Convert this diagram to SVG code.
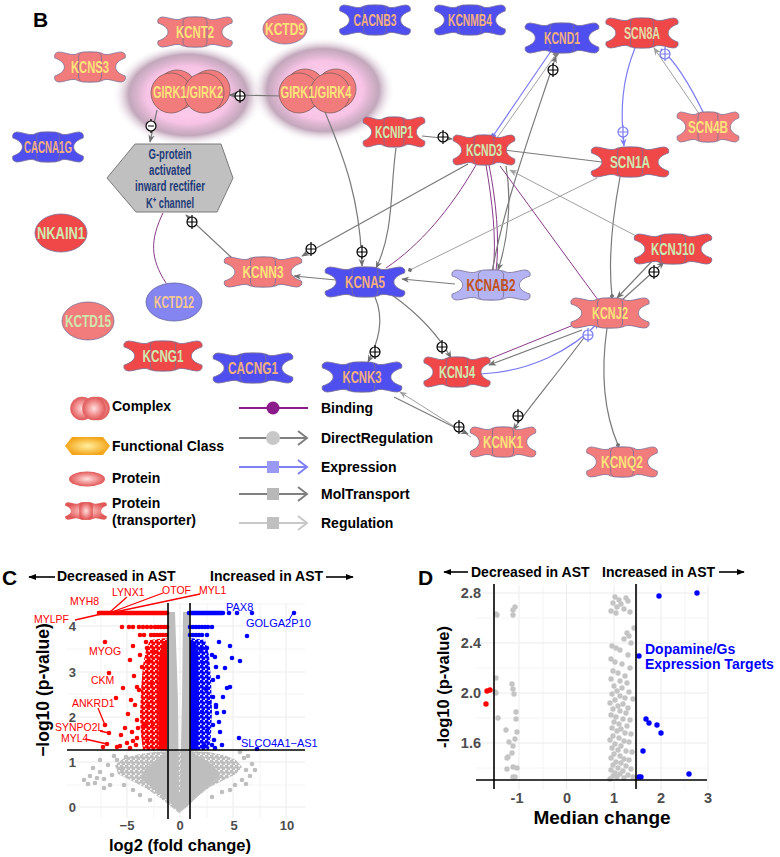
<svg xmlns="http://www.w3.org/2000/svg" width="780" height="857" viewBox="0 0 780 857">
<style>
.lb{font-family:"Liberation Sans",Arial,sans-serif;font-size:17px;font-weight:bold;text-anchor:middle}
.ys{fill:#fbe27a}.gr{fill:#cde8b0}.pc{fill:#f4b07e}
.sal{fill:#f27c7c}.red{fill:#f04848}.blu{fill:#4f4ff0}.lav{fill:#b4b4f4}.lbl{fill:#8585f2}
.hx{font-family:"Liberation Sans",Arial,sans-serif;font-size:14px;font-weight:bold;fill:#1f3b78;text-anchor:middle}
.lg{font-family:"Liberation Sans",Arial,sans-serif;font-size:14px;font-weight:bold;fill:#000}
.big{font-family:"Liberation Sans",Arial,sans-serif;font-size:21px;font-weight:bold;fill:#000}
.hd{font-family:"Liberation Sans",Arial,sans-serif;font-size:14px;font-weight:bold;fill:#000}
.tk{font-family:"Liberation Sans",Arial,sans-serif;font-weight:bold;fill:#4d4d4d;text-anchor:middle}
.at{font-family:"Liberation Sans",Arial,sans-serif;font-weight:bold;fill:#000;text-anchor:middle}
.rl{font-family:"Liberation Sans",Arial,sans-serif;font-size:10.5px;fill:#ff0000}
.bl{font-family:"Liberation Sans",Arial,sans-serif;font-size:11px;fill:#0000ff}
.dr{fill:none;stroke:#7a7a7a;stroke-width:1.2}
.rg{fill:none;stroke:#a0a0a0;stroke-width:1}
.bd{fill:none;stroke:#8a3a8a;stroke-width:1}
.ex{fill:none;stroke:#7b7bf2;stroke-width:1.2}
.gj{stroke:#ebebeb;stroke-width:1}.gn{stroke:#f4f4f4;stroke-width:1}
.k{stroke:#000;stroke-width:1.6}
.pr{fill:#ff0000;r:2.3px}.pb{fill:#0000ff;r:2.3px}.pg{fill:#bebebe;r:2.3px}
.dr2{fill:#ff0000;r:2.7px}.db2{fill:#0000ff;r:2.7px}.dg2{fill:#c4c4c4;r:2.7px}
</style>
<defs>
<path id="tpo" d="M-12,-14 Q0,-16 12,-14 C18,-10 26,-15 33,-15 Q38.5,-14 37,-9 C31,-7 27,-4 27,0 C27,4 31,7 37,9 Q38.5,14 33,15 C26,15 18,10 12,14 Q0,16 -12,14 C-18,10 -26,15 -33,15 Q-38.5,14 -37,9 C-31,7 -27,4 -27,0 C-27,-4 -31,-7 -37,-9 Q-38.5,-14 -33,-15 C-26,-15 -18,-10 -12,-14 Z"/>
<g id="tp" stroke="#7a6f95" stroke-width="0.8">
<use href="#tpo" vector-effect="non-scaling-stroke"/>
<rect x="-12" y="-15" width="24" height="30" rx="5" vector-effect="non-scaling-stroke"/>
</g>
<radialGradient id="glow"><stop offset="0" stop-color="#ffd2f0"/><stop offset="0.55" stop-color="#f8c4e6"/><stop offset="0.78" stop-color="#b898b0" stop-opacity="0.85"/><stop offset="1" stop-color="#ffffff" stop-opacity="0"/></radialGradient>
<radialGradient id="lgred"><stop offset="0" stop-color="#ffe0e0"/><stop offset="0.6" stop-color="#f08c8c"/><stop offset="1" stop-color="#e05858"/></radialGradient>
<radialGradient id="lgor"><stop offset="0" stop-color="#fff0a0"/><stop offset="1" stop-color="#f4a418"/></radialGradient>
<pattern id="rpat" width="5" height="5" patternUnits="userSpaceOnUse"><circle cx="1.2" cy="1.2" r="2.2" fill="#ff0000"/><circle cx="3.7" cy="3.7" r="2.2" fill="#ff0000"/></pattern>
<pattern id="bpat" width="5" height="5" patternUnits="userSpaceOnUse"><circle cx="1.2" cy="1.2" r="2.2" fill="#0000ff"/><circle cx="3.7" cy="3.7" r="2.2" fill="#0000ff"/></pattern>
<pattern id="gpat" width="5" height="5" patternUnits="userSpaceOnUse"><circle cx="1.2" cy="1.2" r="2.2" fill="#bebebe"/><circle cx="3.7" cy="3.7" r="2.2" fill="#bebebe"/></pattern>
<marker id="ag" viewBox="0 0 10 10" refX="9" refY="5" markerWidth="8" markerHeight="8" orient="auto" markerUnits="userSpaceOnUse"><path d="M0,1 L10,5 L0,9 L3,5 Z" fill="#707070"/></marker>
<marker id="al" viewBox="0 0 10 10" refX="9" refY="5" markerWidth="8" markerHeight="8" orient="auto" markerUnits="userSpaceOnUse"><path d="M0,1 L10,5 L0,9 L3,5 Z" fill="#a0a0a0"/></marker>
<marker id="ab" viewBox="0 0 10 10" refX="9" refY="5" markerWidth="8" markerHeight="8" orient="auto" markerUnits="userSpaceOnUse"><path d="M0,1 L10,5 L0,9 L3,5 Z" fill="#7b7bf2"/></marker>
<marker id="dg" viewBox="0 0 10 10" refX="5" refY="5" markerWidth="6" markerHeight="6" orient="auto" markerUnits="userSpaceOnUse"><path d="M1,5 L5,1 L9,5 L5,9 Z" fill="#707070"/></marker>
<marker id="sb" viewBox="0 0 10 10" refX="5" refY="5" markerWidth="6" markerHeight="6" orient="auto" markerUnits="userSpaceOnUse"><rect x="1" y="1" width="8" height="8" fill="#7b7bf2"/></marker>
<marker id="sg" viewBox="0 0 10 10" refX="5" refY="5" markerWidth="6" markerHeight="6" orient="auto" markerUnits="userSpaceOnUse"><rect x="1" y="1" width="8" height="8" fill="#808080"/></marker>
<marker id="ak" viewBox="0 0 10 10" refX="9" refY="5" markerWidth="8" markerHeight="8" orient="auto" markerUnits="userSpaceOnUse"><path d="M0,1 L10,5 L0,9 Z" fill="#000"/></marker>
<g id="pl"><circle r="5" fill="#fff" stroke="#000" stroke-width="1.2"/><path d="M-5,0H5M0,-7V7" stroke="#000" stroke-width="1.2"/></g>
<g id="plb"><circle r="5" fill="#fff" stroke="#7b7bf2" stroke-width="1.2"/><path d="M-5,0H5M0,-7V7" stroke="#7b7bf2" stroke-width="1.2"/></g>
<g id="mn"><circle r="5" fill="#fff" stroke="#000" stroke-width="1.2"/><path d="M-3,0H3M0,-7V-5M0,5V7" stroke="#000" stroke-width="1.2"/></g>
</defs>
<rect width="780" height="857" fill="#fff"/>

<!-- Panel B -->
<text class="big" x="33" y="27" font-size="22">B</text>
<ellipse cx="188" cy="95" rx="76" ry="52" fill="url(#glow)"/>
<ellipse cx="323" cy="90" rx="72" ry="53" fill="url(#glow)"/>

<g id="connectors">
<path class="dr" d="M282,96 L229,95" marker-end="url(#ag)"/>
<path class="dr" d="M157,110 L150,142" marker-end="url(#ag)"/>
<path class="bd" d="M166,283 C150,258 150,240 163,213"/>
<path class="dr" d="M232,258 L186,215" marker-end="url(#ag)"/>
<path class="dr" d="M336,280 L294,276" marker-end="url(#ag)"/>
<path class="dr" d="M468,164 L302,256" marker-end="url(#ag)"/>
<path class="dr" d="M325,112 C345,160 360,200 362,266" marker-end="url(#ag)"/>
<path class="dr" d="M422,136 L452,139" marker-end="url(#ag)"/>
<path class="dr" d="M396,148 C390,190 394,232 376,268" marker-end="url(#ag)"/>
<path class="bd" d="M476,165 C450,210 420,245 386,268"/>
<path class="bd" d="M486,165 C492,200 497,240 493,271"/>
<path class="bd" d="M489,165 C496,200 500,240 496,271"/>
<path class="dr" d="M506,166 C512,200 508,240 498,270" marker-end="url(#ag)"/>
<path class="dr" d="M492,272 C505,200 535,120 556,56" marker-end="url(#ag)"/>
<path class="ex" d="M551,51 L493,136" marker-end="url(#sb)"/>
<path class="rg" d="M497,138 L556,54" marker-end="url(#sg)"/>
<path class="ex" d="M635,48 C622,80 620,110 624,146" marker-end="url(#ab)"/>
<path class="rg" d="M700,115 L654,48" marker-end="url(#al)"/>
<path class="ex" d="M704,114 C690,85 676,62 661,49" marker-end="url(#ab)"/>
<path class="dr" d="M602,162 L504,150" marker-end="url(#dg)"/>
<path class="dr" d="M620,177 C612,220 608,260 612,296" marker-end="url(#dg)"/>
<path class="rg" d="M597,178 L410,270" marker-end="url(#dg)"/>
<path class="rg" d="M640,238 L510,170" marker-end="url(#al)"/>
<path class="bd" d="M500,166 L598,300" stroke-width="0.8"/>
<path class="dr" d="M622,300 L664,262" marker-end="url(#ag)"/>
<path class="dr" d="M656,257 L617,298" marker-end="url(#ag)"/>
<path class="bd" d="M576,324 L487,360" stroke-width="0.8"/>
<path class="dr" d="M582,330 L489,365" marker-end="url(#ag)"/>
<path class="ex" d="M480,374 C530,372 572,350 599,322" marker-end="url(#ab)"/>
<path class="dr" d="M586,335 C560,370 535,400 513,430" marker-end="url(#ag)"/>
<path class="dr" d="M607,328 C601,370 603,410 618,445" marker-end="url(#dg)"/>
<path class="dr" d="M392,295 C420,315 440,338 451,358" marker-end="url(#ag)"/>
<path class="dr" d="M375,297 C385,320 378,342 368,362" marker-end="url(#ag)"/>
<path class="rg" d="M471,437 L400,392" marker-end="url(#al)"/>
<path class="dr" d="M394,397 L468,434" marker-end="url(#ag)"/>
<path class="dr" d="M455,284 L402,279" marker-end="url(#ag)"/>
<use href="#pl" x="240" y="96"/>
<use href="#mn" x="151" y="126"/>
<use href="#pl" x="192" y="222"/>
<use href="#pl" x="311" y="249"/>
<use href="#pl" x="362" y="252"/>
<use href="#pl" x="443" y="137"/>
<use href="#pl" x="553" y="70"/>
<use href="#plb" x="623" y="132"/>
<use href="#plb" x="665" y="54"/>
<use href="#pl" x="654" y="272"/>
<use href="#plb" x="588" y="335"/>
<use href="#pl" x="518" y="416"/>
<use href="#pl" x="442" y="347"/>
<use href="#pl" x="375" y="352"/>
<use href="#pl" x="459" y="427"/>
</g>

<g id="n-GIRK1-GIRK2">
<circle cx="177" cy="90" r="20" fill="#f27c7c" stroke="#806060" stroke-width="0.8"/>
<circle cx="210" cy="90" r="20" fill="#f27c7c" stroke="#806060" stroke-width="0.8"/>
<circle cx="171" cy="93" r="20" fill="#f27c7c" stroke="#806060" stroke-width="0.8"/>
<circle cx="204" cy="93" r="20" fill="#f27c7c" stroke="#806060" stroke-width="0.8"/>
<text class="lb ys" x="188" y="98" font-size="15" textLength="70" lengthAdjust="spacingAndGlyphs">GIRK1/GIRK2</text>
</g>
<g id="n-GIRK1-GIRK4">
<circle cx="305" cy="89" r="20" fill="#f27c7c" stroke="#806060" stroke-width="0.8"/>
<circle cx="336" cy="89" r="20" fill="#f27c7c" stroke="#806060" stroke-width="0.8"/>
<circle cx="299" cy="93" r="20" fill="#f27c7c" stroke="#806060" stroke-width="0.8"/>
<circle cx="330" cy="93" r="20" fill="#f27c7c" stroke="#806060" stroke-width="0.8"/>
<text class="lb ys" x="316" y="98" font-size="15" textLength="71" lengthAdjust="spacingAndGlyphs">GIRK1/GIRK4</text>
</g>
<g id="n-Gprotein">
<polygon points="107,178 135,144 221,144 233,178 217,212 136,212" fill="#c0c0c0" stroke="#7a7a7a" stroke-width="1"/>
<text class="hx" x="170" y="159" textLength="43" lengthAdjust="spacingAndGlyphs">G-protein</text>
<text class="hx" x="170" y="175" textLength="42" lengthAdjust="spacingAndGlyphs">activated</text>
<text class="hx" x="170" y="191" textLength="70" lengthAdjust="spacingAndGlyphs">inward rectifier</text>
<text class="hx" x="170" y="208" textLength="48" lengthAdjust="spacingAndGlyphs">K⁺ channel</text>
</g>

<g id="n-KCNT2"><use href="#tp" class="sal" transform="translate(195,32)"/><text class="lb ys" x="195" y="38" textLength="38" lengthAdjust="spacingAndGlyphs">KCNT2</text></g>
<g id="n-KCTD9"><ellipse cx="285" cy="29" rx="22" ry="15" class="sal" stroke="#7a6f95" stroke-width="0.8"/><text class="lb ys" x="285" y="35" textLength="40" lengthAdjust="spacingAndGlyphs">KCTD9</text></g>
<g id="n-CACNB3"><use href="#tp" class="blu" transform="translate(375,20) scale(0.95,1)"/><text class="lb pc" x="375" y="26" textLength="43" lengthAdjust="spacingAndGlyphs">CACNB3</text></g>
<g id="n-KCNMB4"><use href="#tp" class="blu" transform="translate(470,20) scale(0.95,1)"/><text class="lb pc" x="470" y="26" textLength="44" lengthAdjust="spacingAndGlyphs">KCNMB4</text></g>
<g id="n-KCND1"><use href="#tp" class="blu" transform="translate(562,38) scale(0.99,1)"/><text class="lb pc" x="562" y="44" textLength="36" lengthAdjust="spacingAndGlyphs">KCND1</text></g>
<g id="n-SCN8A"><use href="#tp" class="red" transform="translate(642,33) scale(0.97,1)"/><text class="lb" fill="#e2dca8" x="642" y="39" textLength="36" lengthAdjust="spacingAndGlyphs">SCN8A</text></g>
<g id="n-KCNS3"><use href="#tp" class="sal" transform="translate(90,67) scale(0.95,1)"/><text class="lb ys" x="90" y="73" textLength="38" lengthAdjust="spacingAndGlyphs">KCNS3</text></g>
<g id="n-CACNA1G"><use href="#tp" class="blu" transform="translate(48,147) scale(0.95,1)"/><text class="lb pc" x="48" y="153" textLength="48" lengthAdjust="spacingAndGlyphs">CACNA1G</text></g>
<g id="n-KCNIP1"><use href="#tp" class="red" transform="translate(394,132) scale(0.83,1)"/><text class="lb gr" x="394" y="138" textLength="38" lengthAdjust="spacingAndGlyphs">KCNIP1</text></g>
<g id="n-KCND3"><use href="#tp" class="red" transform="translate(484,150) scale(0.83,1)"/><text class="lb gr" x="484" y="156" textLength="36" lengthAdjust="spacingAndGlyphs">KCND3</text></g>
<g id="n-SCN1A"><use href="#tp" class="red" transform="translate(630,162) scale(1.04,1)"/><text class="lb gr" x="630" y="168" textLength="40" lengthAdjust="spacingAndGlyphs">SCN1A</text></g>
<g id="n-SCN4B"><use href="#tp" class="sal" transform="translate(708,127) scale(0.83,1)"/><text class="lb ys" x="708" y="133" textLength="40" lengthAdjust="spacingAndGlyphs">SCN4B</text></g>
<g id="n-NKAIN1"><ellipse cx="61" cy="233" rx="26" ry="19" class="red" stroke="#7a6f95" stroke-width="0.8"/><text class="lb gr" x="61" y="239" textLength="48" lengthAdjust="spacingAndGlyphs">NKAIN1</text></g>
<g id="n-KCTD12"><ellipse cx="174" cy="302" rx="28" ry="19" class="lbl" stroke="#6060a0" stroke-width="0.8"/><text class="lb" fill="#f8c890" x="174" y="308" textLength="40" lengthAdjust="spacingAndGlyphs">KCTD12</text></g>
<g id="n-KCTD15"><ellipse cx="88" cy="321" rx="26" ry="19" class="sal" stroke="#7a6f95" stroke-width="0.8"/><text class="lb gr" x="88" y="327" textLength="46" lengthAdjust="spacingAndGlyphs">KCTD15</text></g>
<g id="n-KCNN3"><use href="#tp" class="sal" transform="translate(263,272) scale(1.04,1)"/><text class="lb ys" x="263" y="278" textLength="41" lengthAdjust="spacingAndGlyphs">KCNN3</text></g>
<g id="n-KCNA5"><use href="#tp" class="blu" transform="translate(365,282) scale(1.07,1)"/><text class="lb pc" x="365" y="288" textLength="40" lengthAdjust="spacingAndGlyphs">KCNA5</text></g>
<g id="n-KCNAB2"><use href="#tp" class="lav" transform="translate(491,285) scale(1.05,1)"/><text class="lb" fill="#c0501a" x="491" y="291" textLength="49" lengthAdjust="spacingAndGlyphs">KCNAB2</text></g>
<g id="n-KCNJ10"><use href="#tp" class="red" transform="translate(673,249) scale(1.04,1)"/><text class="lb gr" x="673" y="255" textLength="44" lengthAdjust="spacingAndGlyphs">KCNJ10</text></g>
<g id="n-KCNJ2"><use href="#tp" class="sal" transform="translate(610,313) scale(1.05,1)"/><text class="lb ys" x="610" y="319" textLength="36" lengthAdjust="spacingAndGlyphs">KCNJ2</text></g>
<g id="n-KCNJ4"><use href="#tp" class="red" transform="translate(457,372) scale(0.89,1)"/><text class="lb gr" x="457" y="378" textLength="36" lengthAdjust="spacingAndGlyphs">KCNJ4</text></g>
<g id="n-KCNK1"><use href="#tp" class="sal" transform="translate(503,442) scale(0.88,1)"/><text class="lb ys" x="503" y="448" textLength="40" lengthAdjust="spacingAndGlyphs">KCNK1</text></g>
<g id="n-KCNQ2"><use href="#tp" class="sal" transform="translate(622,462) scale(0.95,1)"/><text class="lb ys" x="622" y="468" textLength="42" lengthAdjust="spacingAndGlyphs">KCNQ2</text></g>
<g id="n-KCNG1"><use href="#tp" class="red" transform="translate(163,356) scale(1.05,1)"/><text class="lb gr" x="163" y="362" textLength="41" lengthAdjust="spacingAndGlyphs">KCNG1</text></g>
<g id="n-CACNG1"><use href="#tp" class="blu" transform="translate(253,368) scale(1.07,1)"/><text class="lb pc" x="253" y="374" textLength="50" lengthAdjust="spacingAndGlyphs">CACNG1</text></g>
<g id="n-KCNK3"><use href="#tp" class="blu" transform="translate(362,377) scale(1.07,1)"/><text class="lb pc" x="362" y="383" textLength="39" lengthAdjust="spacingAndGlyphs">KCNK3</text></g>

<!-- Legend -->
<g id="legend">
<circle cx="82" cy="408.5" r="11.5" fill="url(#lgred)" stroke="#e06060" stroke-width="0.6"/>
<circle cx="98" cy="408.5" r="11.5" fill="url(#lgred)" stroke="#e06060" stroke-width="0.6"/>
<circle cx="94" cy="408.5" r="11.5" fill="url(#lgred)" stroke="#e06060" stroke-width="0.6"/>
<polygon points="65,446 72,437 103,437 110,446 103,455 72,455" fill="url(#lgor)"/>
<ellipse cx="87" cy="479" rx="18" ry="7.5" fill="url(#lgred)"/>
<use href="#tp" transform="translate(86,511) scale(0.56,0.58)" fill="url(#lgred)" stroke-opacity="0"/>
<text class="lg" x="112" y="411">Complex</text>
<text class="lg" x="112" y="451">Functional Class</text>
<text class="lg" x="112" y="483">Protein</text>
<text class="lg" x="112" y="508">Protein</text>
<text class="lg" x="112" y="525">(transporter)</text>
<path d="M239,408 H308" stroke="#8b1a8b" stroke-width="2"/>
<circle cx="273" cy="408" r="6.5" fill="#8b1a8b"/>
<path d="M239,438 H306" stroke="#808080" stroke-width="2"/>
<circle cx="273" cy="438" r="7" fill="#c8c8c8"/>
<path d="M298,431 L307,438 L298,445" stroke="#808080" stroke-width="2" fill="none"/>
<path d="M239,467 H306" stroke="#8080f5" stroke-width="2"/>
<rect x="267" y="461" width="12" height="12" fill="#9a9af5"/>
<path d="M298,460 L307,467 L298,474" stroke="#8080f5" stroke-width="2" fill="none"/>
<path d="M239,494 H306" stroke="#808080" stroke-width="2"/>
<rect x="267" y="488" width="12" height="12" fill="#b8b8b8"/>
<path d="M298,487 L307,494 L298,501" stroke="#808080" stroke-width="2" fill="none"/>
<path d="M239,523 H306" stroke="#c8c8c8" stroke-width="2"/>
<rect x="267" y="517" width="12" height="12" fill="#c0c0c0"/>
<path d="M298,516 L307,523 L298,530" stroke="#c8c8c8" stroke-width="2" fill="none"/>
<text class="lg" x="321" y="413">Binding</text>
<text class="lg" x="321" y="443">DirectRegulation</text>
<text class="lg" x="321" y="472">Expression</text>
<text class="lg" x="321" y="499">MolTransport</text>
<text class="lg" x="321" y="528">Regulation</text>
</g>

<!-- Panel C -->
<g id="panelC">
<text class="big" x="2" y="585">C</text>
<path d="M55,577 H29" class="k" stroke-width="1.4" marker-end="url(#ak)"/>
<text class="hd" x="57" y="581">Decreased in AST</text>
<text class="hd" x="210" y="581">Increased in AST</text>
<path d="M326,577 H353" class="k" stroke-width="1.4" marker-end="url(#ak)"/>
<g>
<path class="gn" d="M101,603V818M154,603V818M207,603V818M260,603V818M67,785H305M67,740H305M67,694H305M67,649H305M67,604H305"/>
<path class="gj" d="M127,603V818M180,603V818M233,603V818M286,603V818M67,807H305M67,762H305M67,717H305M67,672H305M67,626H305"/>
</g>
<path fill="url(#gpat)" d="M179,813 L168,804 L156,795 L144,787 L130,780 L118,774 L115,765 L124,758 L140,754 L155,752 L168,751 L190,751 L208,752 L224,755 L236,760 L242,767 L236,774 L224,780 L210,787 L198,796 L188,806 Z"/>
<path fill="#bebebe" d="M179,812 L170,803 L160,794 L150,786 L140,778 L146,768 L158,758 L168,751 L168,612 L175,612 L178,700 L179,792 L180,792 L182,700 L183,612 L189,612 L190,751 L202,758 L214,766 L220,776 L210,786 L198,796 L188,805 Z"/>
<g>
<circle class="pg" cx="84" cy="780"/><circle class="pg" cx="90" cy="776"/><circle class="pg" cx="95" cy="783"/><circle class="pg" cx="100" cy="772"/><circle class="pg" cx="104" cy="779"/><circle class="pg" cx="108" cy="765"/><circle class="pg" cx="112" cy="775"/><circle class="pg" cx="117" cy="760"/><circle class="pg" cx="122" cy="770"/><circle class="pg" cx="126" cy="757"/><circle class="pg" cx="100" cy="760"/><circle class="pg" cx="93" cy="768"/><circle class="pg" cx="110" cy="785"/><circle class="pg" cx="104" cy="788"/><circle class="pg" cx="124" cy="785"/><circle class="pg" cx="133" cy="790"/><circle class="pg" cx="114" cy="756"/><circle class="pg" cx="88" cy="784"/><circle class="pg" cx="97" cy="778"/><circle class="pg" cx="140" cy="795"/><circle class="pg" cx="150" cy="800"/>
<circle class="pg" cx="244" cy="758"/><circle class="pg" cx="246" cy="770"/><circle class="pg" cx="250" cy="776"/><circle class="pg" cx="242" cy="780"/><circle class="pg" cx="235" cy="785"/><circle class="pg" cx="248" cy="756"/><circle class="pg" cx="240" cy="752"/><circle class="pg" cx="252" cy="764"/><circle class="pg" cx="230" cy="790"/><circle class="pg" cx="222" cy="792"/><circle class="pg" cx="255" cy="770"/><circle class="pg" cx="246" cy="784"/><circle class="pg" cx="212" cy="797"/>
</g>
<path fill="url(#rpat)" d="M167,638 L150,640 L146,650 L143,665 L141,690 L140,715 L141,735 L143,750 L167,750 Z"/>
<path fill="#ff0000" d="M167,640 L162,642 L159,660 L158,700 L159,750 L167,750 Z"/>
<path fill="url(#bpat)" d="M190,638 L205,640 L209,655 L211,680 L212,710 L211,735 L209,750 L190,750 Z"/>
<path fill="#0000ff" d="M190,640 L196,642 L198,660 L199,700 L198,750 L190,750 Z"/>
<path d="M99,613 H167" stroke="#ff0000" stroke-width="4.6" stroke-linecap="round"/>
<path d="M189,613 H223" stroke="#0000ff" stroke-width="4.6" stroke-linecap="round"/>
<g>
<circle class="pr" cx="122" cy="627"/><circle class="pr" cx="129" cy="627"/><circle class="pr" cx="133" cy="627"/><circle class="pr" cx="139" cy="627"/><circle class="pr" cx="143" cy="627"/><circle class="pr" cx="147" cy="627"/><circle class="pr" cx="151" cy="627"/><circle class="pr" cx="155" cy="627"/><circle class="pr" cx="158" cy="627"/><circle class="pr" cx="161" cy="627"/><circle class="pr" cx="164" cy="627"/><circle class="pr" cx="167" cy="627"/>
<circle class="pr" cx="140" cy="635"/><circle class="pr" cx="144" cy="635"/><circle class="pr" cx="151" cy="635"/><circle class="pr" cx="154" cy="635"/><circle class="pr" cx="157" cy="635"/><circle class="pr" cx="160" cy="635"/><circle class="pr" cx="163" cy="635"/><circle class="pr" cx="166" cy="635"/>
<circle class="pr" cx="105" cy="642"/><circle class="pr" cx="109" cy="673"/><circle class="pr" cx="116" cy="698"/><circle class="pr" cx="123" cy="688"/><circle class="pr" cx="105" cy="725"/><circle class="pr" cx="109" cy="733"/><circle class="pr" cx="107" cy="744"/><circle class="pr" cx="103" cy="747"/><circle class="pr" cx="117" cy="747"/><circle class="pr" cx="121" cy="735"/><circle class="pr" cx="127" cy="743"/><circle class="pr" cx="132" cy="732"/><circle class="pr" cx="135" cy="705"/><circle class="pr" cx="133" cy="646"/><circle class="pr" cx="137" cy="687"/><circle class="pr" cx="137" cy="720"/><circle class="pr" cx="136" cy="745"/><circle class="pr" cx="140" cy="655"/><circle class="pr" cx="142" cy="667"/>
<circle class="pr" cx="139" cy="690"/><circle class="pr" cx="138" cy="728"/><circle class="pr" cx="147" cy="648"/><circle class="pr" cx="137" cy="738"/><circle class="pr" cx="133" cy="741"/><circle class="pr" cx="130" cy="748"/><circle class="pr" cx="146" cy="642"/><circle class="pr" cx="128" cy="714"/><circle class="pr" cx="131" cy="700"/><circle class="pr" cx="125" cy="728"/><circle class="pr" cx="120" cy="746"/><circle class="pr" cx="134" cy="676"/><circle class="pr" cx="130" cy="660"/>
<circle class="pr" cx="149" cy="661"/><circle class="pr" cx="152" cy="683"/><circle class="pr" cx="148" cy="706"/><circle class="pr" cx="153" cy="724"/><circle class="pr" cx="147" cy="741"/><circle class="pr" cx="155" cy="652"/><circle class="pr" cx="151" cy="697"/><circle class="pr" cx="145" cy="725"/>
<circle class="pb" cx="229" cy="613"/><circle class="pb" cx="237" cy="613"/><circle class="pb" cx="252" cy="613"/><circle class="pb" cx="294" cy="613"/>
<circle class="pb" cx="190" cy="627"/><circle class="pb" cx="193" cy="627"/><circle class="pb" cx="196" cy="627"/><circle class="pb" cx="199" cy="627"/><circle class="pb" cx="202" cy="627"/><circle class="pb" cx="205" cy="627"/><circle class="pb" cx="208" cy="627"/><circle class="pb" cx="212" cy="627"/>
<circle class="pb" cx="190" cy="635"/><circle class="pb" cx="193" cy="635"/><circle class="pb" cx="196" cy="635"/><circle class="pb" cx="199" cy="635"/><circle class="pb" cx="202" cy="635"/><circle class="pb" cx="207" cy="635"/><circle class="pb" cx="247" cy="636"/>
<circle class="pb" cx="219" cy="642"/><circle class="pb" cx="230" cy="646"/><circle class="pb" cx="232" cy="658"/><circle class="pb" cx="240" cy="661"/><circle class="pb" cx="216" cy="667"/><circle class="pb" cx="225" cy="668"/><circle class="pb" cx="218" cy="677"/><circle class="pb" cx="213" cy="680"/><circle class="pb" cx="230" cy="687"/><circle class="pb" cx="227" cy="688"/><circle class="pb" cx="223" cy="697"/><circle class="pb" cx="216" cy="707"/><circle class="pb" cx="217" cy="713"/><circle class="pb" cx="213" cy="697"/><circle class="pb" cx="220" cy="732"/><circle class="pb" cx="239" cy="738"/><circle class="pb" cx="257" cy="749"/><circle class="pb" cx="212" cy="655"/>
<circle class="pb" cx="213" cy="725"/><circle class="pb" cx="212" cy="745"/><circle class="pb" cx="215" cy="748"/><circle class="pb" cx="207" cy="648"/><circle class="pb" cx="216" cy="705"/><circle class="pb" cx="219" cy="722"/><circle class="pb" cx="214" cy="740"/><circle class="pb" cx="222" cy="745"/><circle class="pb" cx="215" cy="657"/><circle class="pb" cx="224" cy="712"/>
<circle class="pb" cx="203" cy="663"/><circle class="pb" cx="206" cy="689"/><circle class="pb" cx="202" cy="712"/><circle class="pb" cx="207" cy="731"/><circle class="pb" cx="204" cy="745"/><circle class="pb" cx="201" cy="650"/><circle class="pb" cx="209" cy="703"/>
</g>
<path d="M75,620 L110,612 M97,612 L107,613 M127,597 L110,612 M163,593 L112,612 M200,594 L115,612 M98,708 L105,725 M100,731 L109,733 M85,739 L107,744" stroke="#ff0000" stroke-width="1.3" fill="none"/>
<path d="M293,613 L289,620" stroke="#0000ff" stroke-width="1"/>
<path class="k" d="M168,603 V819 M190,603 V819 M67,750 H305"/>
<text class="rl" x="34" y="623">MYLPF</text>
<text class="rl" x="70" y="605">MYH8</text>
<text class="rl" x="112" y="596">LYNX1</text>
<text class="rl" x="162" y="594">OTOF</text>
<text class="rl" x="199" y="594">MYL1</text>
<text class="rl" x="89" y="655">MYOG</text>
<text class="rl" x="91" y="684">CKM</text>
<text class="rl" x="72" y="707">ANKRD1</text>
<text class="rl" x="55" y="731">SYNPO2L</text>
<text class="rl" x="61" y="742">MYL4</text>
<text class="bl" x="226" y="611">PAX8</text>
<text class="bl" x="246" y="627">GOLGA2P10</text>
<text class="bl" x="241" y="747">SLCO4A1−AS1</text>
<g class="tk" font-size="13" style="text-anchor:end">
<text x="76" y="631">4</text><text x="76" y="677">3</text><text x="76" y="722">2</text><text x="76" y="767">1</text><text x="76" y="812">0</text>
</g>
<g class="tk" font-size="13">
<text x="127" y="830">−5</text><text x="180" y="830">0</text><text x="234" y="830">5</text><text x="287" y="830">10</text>
</g>
<text class="at" x="180" y="851" font-size="16.5">log2 (fold change)</text>
<text class="at" font-size="17.5" transform="translate(49,690) rotate(-90)">−log10 (p-value)</text>
</g>

<!-- Panel D -->
<g id="panelD">
<text class="big" x="418" y="585">D</text>
<path d="M468,572 H444" class="k" stroke-width="1.4" marker-end="url(#ak)"/>
<text class="hd" x="471" y="577">Decreased in AST</text>
<text class="hd" x="602" y="577">Increased in AST</text>
<path d="M719,572 H744" class="k" stroke-width="1.4" marker-end="url(#ak)"/>
<path class="gn" d="M543,585V790M590,585V790M637.5,585V790M685,585V790M476,618H707M476,668H707M476,718H707M476,768H707"/>
<path class="gj" d="M519,585V790M566.5,585V790M614,585V790M661,585V790M708,585V790M476,593H707M476,643H707M476,693H707M476,743H707"/>
<g>
<circle class="dg2" cx="496" cy="614"/><circle class="dg2" cx="497" cy="615"/><circle class="dg2" cx="513" cy="610"/><circle class="dg2" cx="515" cy="607"/><circle class="dg2" cx="513" cy="615"/><circle class="dg2" cx="496" cy="678"/><circle class="dg2" cx="495" cy="692"/><circle class="dg2" cx="496" cy="693"/><circle class="dg2" cx="512" cy="684"/><circle class="dg2" cx="513" cy="689"/><circle class="dg2" cx="514" cy="694"/><circle class="dg2" cx="516" cy="712"/><circle class="dg2" cx="498" cy="718"/><circle class="dg2" cx="516" cy="719"/><circle class="dg2" cx="506" cy="730"/><circle class="dg2" cx="517" cy="732"/><circle class="dg2" cx="509" cy="742"/><circle class="dg2" cx="515" cy="739"/><circle class="dg2" cx="513" cy="746"/><circle class="dg2" cx="507" cy="758"/><circle class="dg2" cx="508" cy="757"/><circle class="dg2" cx="512" cy="753"/><circle class="dg2" cx="513" cy="767"/><circle class="dg2" cx="517" cy="768"/><circle class="dg2" cx="507" cy="769"/><circle class="dg2" cx="513" cy="777"/><circle class="dg2" cx="515" cy="777"/>
<circle class="dg2" cx="615" cy="597"/><circle class="dg2" cx="619" cy="600"/><circle class="dg2" cx="626" cy="598"/><circle class="dg2" cx="628" cy="601"/><circle class="dg2" cx="613" cy="603"/><circle class="dg2" cx="617" cy="607"/><circle class="dg2" cx="621" cy="604"/><circle class="dg2" cx="624" cy="609"/><circle class="dg2" cx="611" cy="611"/><circle class="dg2" cx="616" cy="613"/>
<circle class="dg2" cx="627" cy="633"/><circle class="dg2" cx="629" cy="636"/><circle class="dg2" cx="624" cy="639"/><circle class="dg2" cx="612" cy="646"/><circle class="dg2" cx="616" cy="648"/><circle class="dg2" cx="620" cy="650"/><circle class="dg2" cx="628" cy="655"/><circle class="dg2" cx="611" cy="659"/><circle class="dg2" cx="615" cy="662"/><circle class="dg2" cx="622" cy="664"/>
<circle class="dg2" cx="630" cy="668"/><circle class="dg2" cx="613" cy="671"/><circle class="dg2" cx="618" cy="673"/><circle class="dg2" cx="625" cy="676"/><circle class="dg2" cx="611" cy="679"/><circle class="dg2" cx="620" cy="681"/><circle class="dg2" cx="627" cy="683"/><circle class="dg2" cx="614" cy="686"/><circle class="dg2" cx="622" cy="688"/><circle class="dg2" cx="617" cy="691"/>
<circle class="dg2" cx="629" cy="692"/><circle class="dg2" cx="612" cy="694"/><circle class="dg2" cx="620" cy="696"/><circle class="dg2" cx="625" cy="698"/><circle class="dg2" cx="615" cy="700"/><circle class="dg2" cx="610" cy="703"/><circle class="dg2" cx="623" cy="704"/><circle class="dg2" cx="618" cy="706"/><circle class="dg2" cx="628" cy="708"/><circle class="dg2" cx="613" cy="709"/>
<circle class="dg2" cx="620" cy="711"/><circle class="dg2" cx="626" cy="713"/><circle class="dg2" cx="611" cy="715"/><circle class="dg2" cx="616" cy="717"/><circle class="dg2" cx="623" cy="719"/><circle class="dg2" cx="630" cy="720"/><circle class="dg2" cx="614" cy="722"/><circle class="dg2" cx="619" cy="724"/><circle class="dg2" cx="627" cy="726"/><circle class="dg2" cx="612" cy="728"/>
<circle class="dg2" cx="621" cy="729"/><circle class="dg2" cx="617" cy="731"/><circle class="dg2" cx="625" cy="733"/><circle class="dg2" cx="631" cy="734"/><circle class="dg2" cx="613" cy="736"/><circle class="dg2" cx="619" cy="738"/><circle class="dg2" cx="610" cy="740"/><circle class="dg2" cx="624" cy="741"/><circle class="dg2" cx="629" cy="742"/><circle class="dg2" cx="615" cy="744"/>
<circle class="dg2" cx="621" cy="746"/><circle class="dg2" cx="612" cy="748"/><circle class="dg2" cx="618" cy="750"/><circle class="dg2" cx="626" cy="751"/><circle class="dg2" cx="632" cy="752"/><circle class="dg2" cx="614" cy="754"/><circle class="dg2" cx="620" cy="756"/><circle class="dg2" cx="611" cy="758"/><circle class="dg2" cx="624" cy="759"/><circle class="dg2" cx="629" cy="760"/>
<circle class="dg2" cx="616" cy="762"/><circle class="dg2" cx="621" cy="763"/><circle class="dg2" cx="613" cy="765"/><circle class="dg2" cx="626" cy="766"/><circle class="dg2" cx="618" cy="768"/><circle class="dg2" cx="631" cy="769"/><circle class="dg2" cx="611" cy="770"/><circle class="dg2" cx="623" cy="771"/><circle class="dg2" cx="615" cy="773"/><circle class="dg2" cx="620" cy="774"/>
<circle class="dg2" cx="628" cy="775"/><circle class="dg2" cx="613" cy="776"/><circle class="dg2" cx="617" cy="777"/><circle class="dg2" cx="624" cy="778"/><circle class="dg2" cx="610" cy="779"/><circle class="dg2" cx="633" cy="777"/><circle class="dg2" cx="630" cy="612"/><circle class="dg2" cx="634" cy="628"/><circle class="dg2" cx="631" cy="643"/><circle class="dg2" cx="633" cy="699"/>
<circle class="dr2" cx="490" cy="690"/><circle class="dr2" cx="487" cy="691"/><circle class="dr2" cx="486" cy="704"/>
<circle class="db2" cx="659" cy="596"/><circle class="db2" cx="697" cy="593"/><circle class="db2" cx="639" cy="656"/><circle class="db2" cx="646" cy="719"/><circle class="db2" cx="649" cy="723"/><circle class="db2" cx="657" cy="725"/><circle class="db2" cx="661" cy="733"/><circle class="db2" cx="643" cy="751"/><circle class="db2" cx="689" cy="774"/><circle class="db2" cx="639" cy="777"/><circle class="db2" cx="641" cy="777"/>
</g>
<path class="k" d="M494,584 V789 M636,584 V789 M476,780 H707"/>
<g class="tk" font-size="14.5" style="text-anchor:end">
<text x="481" y="598">2.8</text><text x="481" y="648">2.4</text><text x="481" y="698">2.0</text><text x="481" y="748">1.6</text>
</g>
<g class="tk" font-size="14.5">
<text x="517" y="803">-1</text><text x="567" y="803">0</text><text x="614" y="803">1</text><text x="661" y="803">2</text><text x="708" y="803">3</text>
</g>
<text class="at" x="602" y="824" font-size="19">Median change</text>
<text class="at" font-size="16.5" transform="translate(449,687) rotate(-90)">-log10 (p-value)</text>
<text class="hd" x="645" y="654" font-size="14.5" style="fill:#0000ff">Dopamine/Gs</text>
<text class="hd" x="645" y="669" font-size="14.5" style="fill:#0000ff">Expression Targets</text>
</g>
</svg>
